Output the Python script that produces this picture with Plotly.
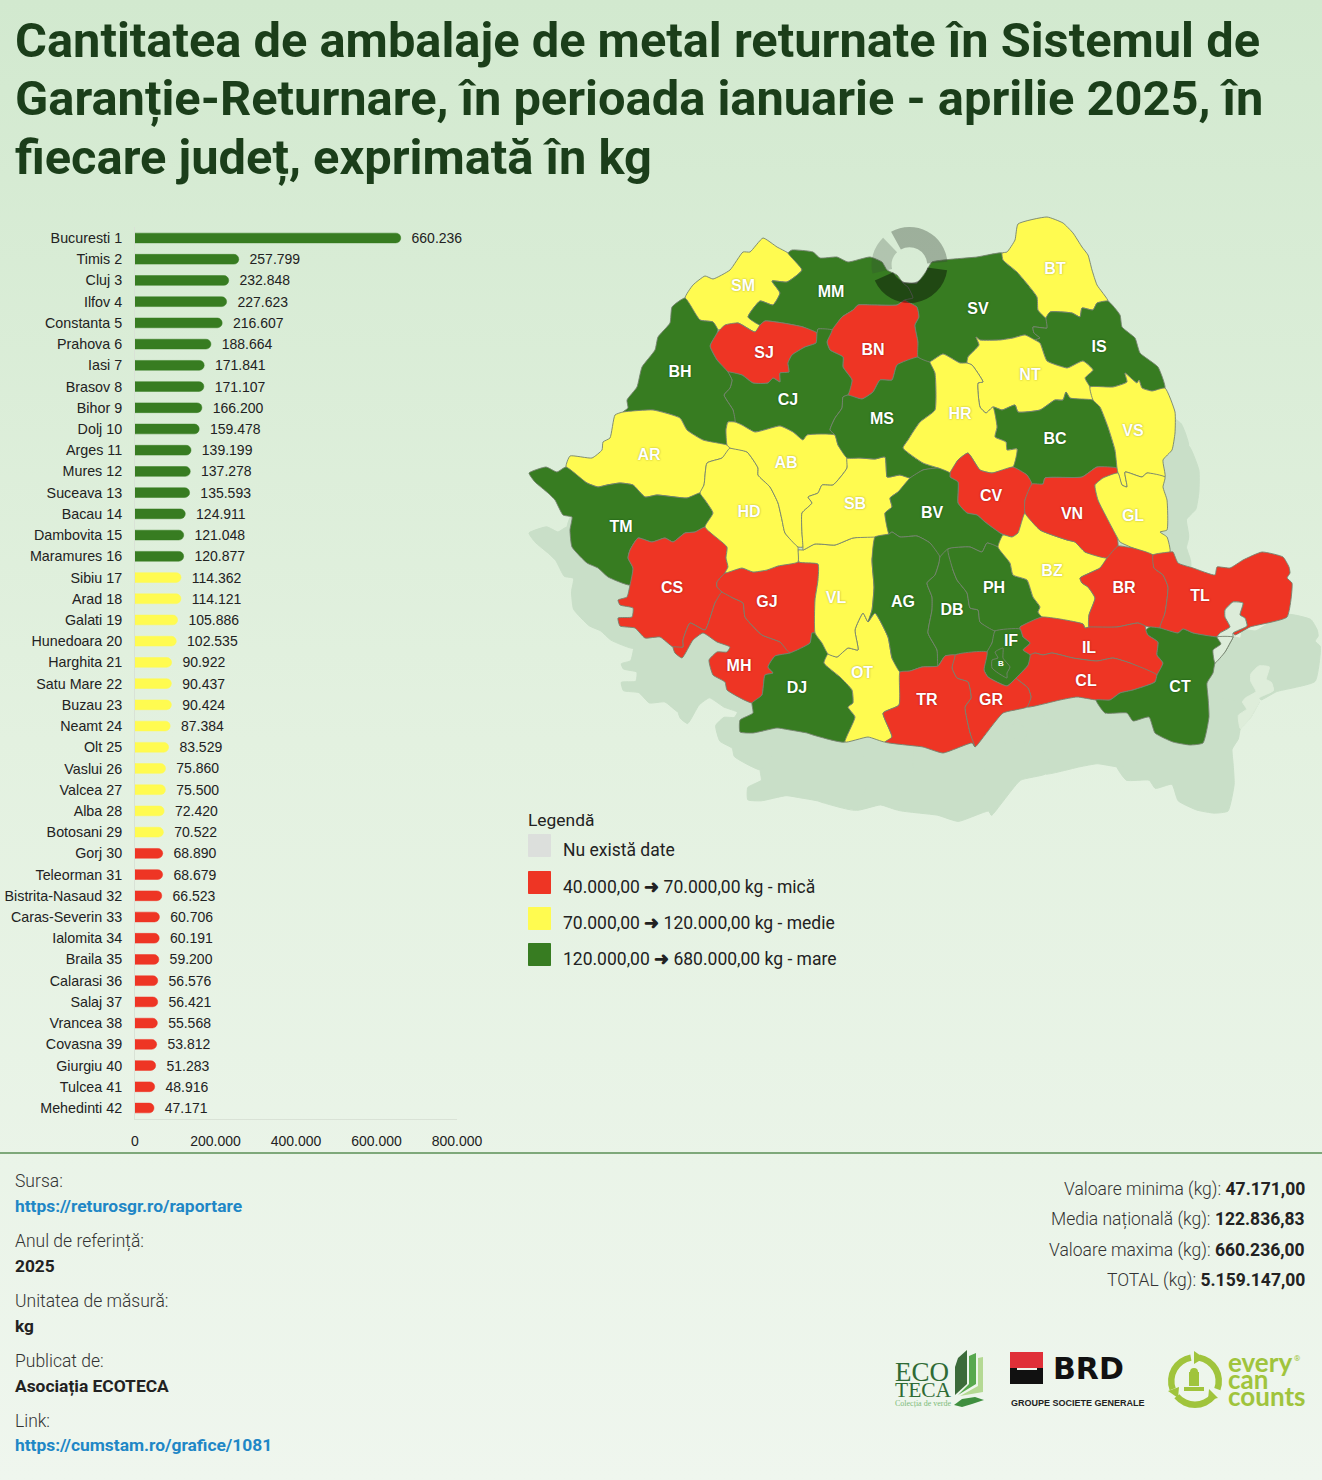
import numpy as np
import plotly.graph_objects as go

# bar chart data
county_names = ["Bucuresti", "Timis", "Cluj", "Ilfov", "Constanta", "Prahova", "Iasi", "Brasov", "Bihor", "Dolj",
                "Arges", "Mures", "Suceava", "Bacau", "Dambovita", "Maramures", "Sibiu", "Arad", "Galati", "Hunedoara",
                "Harghita", "Satu Mare", "Buzau", "Neamt", "Olt", "Vaslui", "Valcea", "Alba", "Botosani", "Gorj",
                "Teleorman", "Bistrita-Nasaud", "Caras-Severin", "Ialomita", "Braila", "Calarasi", "Salaj", "Vrancea",
                "Covasna", "Giurgiu", "Tulcea", "Mehedinti"]
county_codes = ["B", "TM", "CJ", "IF", "CT", "PH", "IS", "BV", "BH", "DJ", "AG", "MS", "SV", "BC", "DB", "MM", "SB",
                "AR", "GL", "HD", "HR", "SM", "BZ", "NT", "OT", "VS", "VL", "AB", "BT", "GJ", "TR", "BN", "CS", "IL",
                "BR", "CL", "SJ", "VN", "CV", "GR", "TL", "MH"]
county_values = [660236, 257799, 232848, 227623, 216607, 188664, 171841, 171107, 166200, 159478, 139199, 137278,
                 135593, 124911, 121048, 120877, 114362, 114121, 105886, 102535, 90922, 90437, 90424, 87384, 83529,
                 75860, 75500, 72420, 70522, 68890, 68679, 66523, 60706, 60191, 59200, 56576, 56421, 55568, 53812,
                 51283, 48916, 47171]

# county outlines
SM_XY = [(685,298),(693,285),(705,276),(713,279),(730,270),(743,252),(750,252),(763,238),(777,247),(788,253),(802,270),(787,282),(772,281),(780,293),(773,305),(760,301),(748,317),(760,325),(755,332),(738,323),(718,330),(713,322),(700,320)]
MM_XY = [(788,253),(792,250),(813,252),(820,258),(837,257),(848,262),(870,257),(882,262),(887,270),(897,275),(903,283),(908,287),(913,298),(905,300),(897,305),(873,305),(858,305),(853,310),(842,317),(832,330),(818,329),(817,333),(803,327),(783,323),(765,321),(760,325),(748,317),(760,301),(773,305),(780,293),(772,281),(787,282),(802,270)]
BN_XY = [(827,342),(832,330),(842,317),(853,310),(858,305),(873,305),(897,305),(905,300),(917,307),(919,317),(915,325),(918,342),(918,357),(897,365),(892,380),(880,380),(873,392),(862,399),(848,395),(852,380),(843,367),(843,357),(830,350)]
SJ_XY = [(710,346),(717,333),(725,325),(738,323),(755,332),(760,325),(765,321),(783,323),(803,327),(817,333),(816,343),(805,347),(792,355),(788,363),(789,372),(780,373),(780,382),(773,378),(768,383),(753,383),(742,375),(728,372),(717,360)]
CJ_XY = [(728,372),(742,375),(753,383),(768,383),(773,378),(780,382),(780,373),(789,372),(788,363),(792,355),(805,347),(816,343),(817,333),(818,329),(832,330),(827,342),(830,350),(843,357),(843,367),(852,380),(848,395),(843,397),(842,408),(835,418),(830,430),(835,435),(807,435),(803,440),(793,432),(780,426),(755,432),(742,425),(735,422),(733,410),(724,395),(730,388),(732,380)]
BH_XY = [(685,298),(672,307),(670,323),(658,337),(655,350),(642,367),(637,387),(627,400),(628,408),(623,412),(653,410),(680,418),(687,430),(703,440),(727,445),(726,430),(728,422),(735,422),(733,410),(724,395),(730,388),(732,380),(728,372),(717,360),(710,346),(717,333),(718,330),(713,322),(700,320)]
AR_XY = [(623,412),(615,415),(610,438),(603,442),(602,450),(592,458),(570,456),(566,467),(587,483),(598,487),(607,485),(620,483),(633,485),(645,497),(657,495),(687,498),(700,493),(704,485),(707,463),(722,458),(730,448),(727,445),(703,440),(687,430),(680,418),(653,410)]
TM_XY = [(529,473),(546,467),(557,472),(566,467),(587,483),(598,487),(607,485),(620,483),(633,485),(645,497),(657,495),(687,498),(700,493),(705,500),(713,513),(705,527),(695,532),(685,533),(673,542),(665,538),(652,542),(638,538),(630,550),(628,558),(633,568),(630,585),(608,577),(598,568),(587,563),(572,547),(570,530),(572,517),(563,515),(555,500),(548,493),(535,482)]
CS_XY = [(630,585),(627,597),(618,600),(620,605),(633,608),(632,617),(618,618),(620,626),(635,628),(645,638),(660,637),(673,647),(683,647),(683,640),(690,623),(705,630),(715,603),(722,592),(717,587),(717,582),(725,573),(728,567),(726,558),(727,547),(705,527),(695,532),(685,533),(673,542),(665,538),(652,542),(638,538),(630,550),(628,558),(633,568)]
MH_XY = [(722,592),(715,603),(705,630),(690,623),(683,640),(683,647),(673,647),(675,653),(682,658),(693,640),(703,633),(717,642),(730,647),(727,652),(717,652),(709,660),(713,675),(725,682),(727,690),(752,703),(762,695),(765,675),(773,673),(768,667),(775,656),(790,653),(780,642),(762,635),(745,617),(743,603),(733,598)]
GJ_XY = [(725,573),(742,568),(753,572),(767,570),(778,566),(798,562),(818,564),(818,580),(815,600),(815,633),(812,633),(810,643),(790,653),(780,642),(762,635),(745,617),(743,603),(733,598),(722,592),(717,587),(717,582)]
DJ_XY = [(790,653),(810,643),(812,633),(815,633),(822,643),(828,654),(824,663),(840,677),(852,690),(853,703),(848,707),(855,717),(845,742),(813,735),(807,733),(790,730),(777,728),(753,733),(740,732),(740,720),(753,713),(752,703),(762,695),(765,675),(773,673),(768,667),(775,656)]
OT_XY = [(828,654),(837,657),(848,648),(858,650),(855,630),(863,613),(868,622),(875,613),(888,637),(892,658),(900,672),(899,705),(883,713),(892,737),(885,742),(868,737),(845,742),(855,717),(848,707),(853,703),(852,690),(840,677),(824,663)]
VL_XY = [(798,550),(799,562),(818,564),(818,580),(815,600),(815,633),(822,643),(828,654),(837,657),(848,648),(858,650),(855,630),(863,613),(868,622),(872,610),(874,587),(872,560),(875,537),(853,538),(835,545),(815,544),(803,550)]
HD_XY = [(730,448),(722,458),(707,463),(704,485),(700,493),(705,500),(713,513),(705,527),(727,547),(726,558),(728,567),(725,573),(742,568),(753,572),(767,570),(778,566),(798,562),(798,550),(798,547),(785,533),(782,520),(778,503),(770,487),(758,475),(758,468),(747,452)]
AB_XY = [(727,445),(726,430),(728,422),(735,422),(742,425),(755,432),(780,426),(793,432),(803,440),(807,435),(835,435),(838,445),(847,458),(847,468),(833,485),(822,485),(818,493),(808,497),(812,503),(802,513),(802,533),(803,547),(798,547),(785,533),(782,520),(778,503),(770,487),(758,475),(758,468),(747,452),(730,448)]
SB_XY = [(847,458),(860,458),(875,459),(885,457),(887,477),(890,477),(900,475),(910,478),(898,492),(890,498),(892,507),(885,513),(889,534),(875,537),(853,538),(835,545),(815,544),(803,550),(803,547),(802,533),(802,513),(812,503),(808,497),(818,493),(822,485),(833,485),(847,468)]
MS_XY = [(848,395),(862,399),(873,392),(880,380),(892,380),(897,365),(918,357),(930,362),(935,373),(935,410),(920,422),(913,432),(908,440),(903,448),(923,463),(938,468),(923,470),(910,478),(900,475),(890,477),(887,477),(885,457),(875,459),(860,458),(847,458),(838,445),(835,435),(830,430),(835,418),(842,408),(843,397)]
SV_XY = [(903,283),(917,283),(927,270),(932,262),(977,257),(1002,253),(1003,260),(1017,272),(1037,297),(1038,310),(1046,318),(1047,328),(1033,327),(1034,333),(1040,338),(1035,340),(1025,335),(1013,338),(1000,340),(980,340),(976,337),(979,345),(968,357),(967,363),(960,363),(943,354),(933,360),(930,362),(918,357),(918,342),(915,325),(919,317),(917,307),(905,300),(913,298),(908,287)]
BT_XY = [(1002,253),(1007,252),(1015,240),(1018,224),(1047,217),(1063,223),(1073,233),(1082,247),(1088,255),(1092,270),(1097,285),(1108,301),(1097,303),(1093,310),(1082,308),(1080,317),(1072,313),(1050,312),(1046,318),(1038,310),(1037,297),(1017,272),(1003,260)]
IS_XY = [(1046,318),(1050,312),(1072,313),(1080,317),(1082,308),(1093,310),(1097,303),(1108,301),(1120,315),(1122,327),(1135,338),(1140,353),(1158,367),(1165,388),(1152,391),(1142,388),(1139,380),(1137,383),(1125,373),(1127,382),(1113,387),(1090,387),(1085,378),(1093,370),(1083,361),(1070,367),(1067,368),(1047,361),(1040,343),(1035,340),(1040,338),(1034,333),(1033,327),(1047,328)]
NT_XY = [(976,337),(980,340),(1000,340),(1013,338),(1025,335),(1035,340),(1040,343),(1047,361),(1067,368),(1070,367),(1083,361),(1093,370),(1085,378),(1090,387),(1093,400),(1070,398),(1066,392),(1063,400),(1055,400),(1040,410),(1018,412),(1015,405),(1002,410),(993,407),(986,413),(980,407),(978,383),(983,382),(972,365),(967,363),(968,357),(979,345)]
BC_XY = [(993,407),(1002,410),(1015,405),(1018,412),(1040,410),(1055,400),(1063,400),(1066,392),(1070,398),(1093,400),(1100,407),(1108,427),(1115,450),(1117,468),(1097,467),(1082,477),(1045,478),(1043,484),(1032,484),(1027,475),(1013,467),(1017,449),(1007,450),(1006,442),(995,437),(997,427)]
HR_XY = [(930,362),(933,360),(943,354),(960,363),(967,363),(972,365),(983,382),(978,383),(980,407),(986,413),(993,407),(997,427),(995,437),(1006,442),(1007,450),(1017,449),(1013,467),(992,473),(980,470),(968,453),(958,460),(950,473),(938,468),(923,463),(903,448),(908,440),(913,432),(920,422),(935,410),(935,373)]
CV_XY = [(950,473),(958,460),(968,453),(980,470),(992,473),(1013,467),(1027,475),(1032,484),(1025,500),(1025,513),(1018,533),(1012,537),(1000,533),(985,522),(977,515),(967,513),(958,503),(958,482),(950,477)]
BV_XY = [(910,478),(923,470),(938,468),(950,473),(950,477),(958,482),(958,503),(967,513),(977,515),(985,522),(1000,533),(1003,535),(998,547),(987,543),(982,552),(970,547),(948,549),(940,557),(930,543),(917,536),(900,537),(892,532),(889,534),(885,513),(892,507),(890,498),(898,492)]
AG_XY = [(875,537),(889,534),(892,532),(900,537),(917,536),(930,543),(940,557),(939,563),(935,575),(927,583),(932,597),(932,610),(928,633),(937,650),(938,666),(922,667),(910,671),(900,672),(892,658),(888,637),(875,613),(868,622),(872,610),(874,587),(872,560)]
DB_XY = [(940,557),(948,549),(953,570),(957,580),(967,593),(970,608),(978,610),(980,622),(995,631),(992,643),(987,652),(955,655),(945,656),(938,666),(937,650),(928,633),(932,610),(932,597),(927,583),(935,575),(939,563)]
PH_XY = [(948,549),(970,547),(982,552),(987,543),(998,547),(1010,563),(1013,575),(1027,580),(1033,597),(1040,607),(1038,612),(1042,617),(1020,627),(1020,629),(995,631),(980,622),(978,610),(970,608),(967,593),(957,580),(953,570)]
BZ_XY = [(998,547),(1003,535),(1012,537),(1018,533),(1025,513),(1040,530),(1067,540),(1075,542),(1085,552),(1107,558),(1100,568),(1080,578),(1082,583),(1088,587),(1095,598),(1089,615),(1089,627),(1085,628),(1083,624),(1042,617),(1038,612),(1040,607),(1033,597),(1027,580),(1013,575),(1010,563)]
VN_XY = [(1025,513),(1025,500),(1032,484),(1043,484),(1045,478),(1082,477),(1097,467),(1117,468),(1118,473),(1103,478),(1095,485),(1098,500),(1117,537),(1118,546),(1107,558),(1085,552),(1075,542),(1067,540),(1040,530)]
VS_XY = [(1090,387),(1113,387),(1127,382),(1125,373),(1137,383),(1139,380),(1142,388),(1152,391),(1165,388),(1175,412),(1175,433),(1172,450),(1163,460),(1165,477),(1147,473),(1142,477),(1125,472),(1127,487),(1122,485),(1118,473),(1117,468),(1115,450),(1108,427),(1100,407),(1093,400)]
GL_XY = [(1095,485),(1103,478),(1118,473),(1122,485),(1127,487),(1125,472),(1142,477),(1147,473),(1165,477),(1163,487),(1167,500),(1167,530),(1160,532),(1167,537),(1170,552),(1153,555),(1133,548),(1120,542),(1117,537),(1098,500)]
BR_XY = [(1107,558),(1118,546),(1127,547),(1133,548),(1153,555),(1154,568),(1163,575),(1168,587),(1165,613),(1160,628),(1145,626),(1138,623),(1117,627),(1089,627),(1089,615),(1095,598),(1088,587),(1082,583),(1080,578),(1100,568)]
TL_XY = [(1153,555),(1170,552),(1173,552),(1178,563),(1193,568),(1215,575),(1217,567),(1230,568),(1243,560),(1262,552),(1283,557),(1289,567),(1290,573),(1287,578),(1292,583),(1287,617),(1250,627),(1235,635),(1233,633),(1247,626),(1245,618),(1240,615),(1243,603),(1233,602),(1225,610),(1225,617),(1230,627),(1220,633),(1217,637),(1193,633),(1183,629),(1178,633),(1160,628),(1165,613),(1168,587),(1163,575),(1154,568)]
IL_XY = [(1020,627),(1042,617),(1083,624),(1085,628),(1089,627),(1117,627),(1138,623),(1145,626),(1146,630),(1148,635),(1158,642),(1157,655),(1163,663),(1157,675),(1130,663),(1113,658),(1097,661),(1073,658),(1052,653),(1043,655),(1035,653),(1030,655),(1023,650),(1030,643),(1023,637),(1020,629)]
CL_XY = [(1030,655),(1035,653),(1043,655),(1052,653),(1073,658),(1097,661),(1113,658),(1130,663),(1157,675),(1155,682),(1133,690),(1120,693),(1110,700),(1096,700),(1077,697),(1060,700),(1027,707),(1031,697),(1028,688),(1016,678),(1017,677),(1028,665)]
CT_XY = [(1146,630),(1150,627),(1160,628),(1178,633),(1183,629),(1193,633),(1217,637),(1233,637),(1230,643),(1225,652),(1215,663),(1213,673),(1207,683),(1208,697),(1209,717),(1203,743),(1190,745),(1173,742),(1155,733),(1149,717),(1133,721),(1127,713),(1105,713),(1096,700),(1110,700),(1120,693),(1133,690),(1155,682),(1157,675),(1163,663),(1157,655),(1158,642),(1148,635)]
IF_XY = [(995,631),(1020,629),(1023,637),(1030,643),(1023,650),(1030,655),(1028,665),(1017,677),(1007,686),(988,677),(984,670),(987,652),(992,643)]
B_XY = [(995,652),(1003,648),(1003,658),(1010,667),(1007,673),(1007,678),(998,673),(992,668),(992,660),(998,658)]
GR_XY = [(955,655),(987,652),(984,670),(988,677),(1007,686),(1017,677),(1016,678),(1028,688),(1031,697),(1027,707),(1003,713),(985,735),(975,747),(970,733),(965,707),(971,698),(968,682),(957,678),(952,668)]
TR_XY = [(900,672),(910,671),(922,667),(938,666),(945,656),(955,655),(952,668),(957,678),(968,682),(971,698),(965,707),(970,733),(975,747),(972,743),(943,753),(923,747),(885,742),(892,737),(883,713),(899,705)]
RAZIM_XY = [(1247,626),(1245,618),(1240,615),(1243,603),(1233,602),(1225,610),(1225,617),(1230,627),(1220,633),(1217,637),(1233,637),(1233,633)]
SINOE_XY = [(1217,637),(1233,637),(1230,643),(1225,652),(1215,663),(1213,650),(1221,644)]

county_outlines = {"SM": SM_XY, "MM": MM_XY, "BN": BN_XY, "SJ": SJ_XY, "CJ": CJ_XY, "BH": BH_XY, "AR": AR_XY,
                   "TM": TM_XY, "CS": CS_XY, "MH": MH_XY, "GJ": GJ_XY, "DJ": DJ_XY, "OT": OT_XY, "VL": VL_XY,
                   "HD": HD_XY, "AB": AB_XY, "SB": SB_XY, "MS": MS_XY, "SV": SV_XY, "BT": BT_XY, "IS": IS_XY,
                   "NT": NT_XY, "BC": BC_XY, "HR": HR_XY, "CV": CV_XY, "BV": BV_XY, "AG": AG_XY, "DB": DB_XY,
                   "PH": PH_XY, "BZ": BZ_XY, "VN": VN_XY, "VS": VS_XY, "GL": GL_XY, "BR": BR_XY, "TL": TL_XY,
                   "IL": IL_XY, "CL": CL_XY, "CT": CT_XY, "IF": IF_XY, "B": B_XY, "GR": GR_XY, "TR": TR_XY}

label_positions = {"SM": (743,285), "MM": (831,291), "SV": (978,308), "BT": (1055,268), "BH": (680,371), "SJ": (764,352),
                   "BN": (873,349), "CJ": (788,399), "MS": (882,418), "HR": (960,413), "NT": (1030,374), "IS": (1099,346),
                   "VS": (1133,430), "BC": (1055,438), "AR": (649,454), "AB": (786,462), "SB": (855,503), "HD": (749,511),
                   "BV": (932,512), "CV": (991,495), "VN": (1072,513), "GL": (1133,515), "TM": (621,526), "CS": (672,587),
                   "GJ": (767,601), "VL": (836,597), "AG": (903,601), "DB": (952,609), "PH": (994,587), "BZ": (1052,570),
                   "BR": (1124,587), "TL": (1200,595), "IF": (1011,640), "IL": (1089,647), "CL": (1086,680), "CT": (1180,686),
                   "MH": (739,665), "DJ": (797,687), "OT": (862,672), "TR": (927,699), "GR": (991,699)}

legend_labels = ["Nu există date", "40.000,00 <b>➜</b> 70.000,00 kg - mică", "70.000,00 <b>➜</b> 120.000,00 kg - medie",
                 "120.000,00 <b>➜</b> 680.000,00 kg - mare"]
summary_names = ["Valoare minima (kg):", "Media națională (kg):", "Valoare maxima (kg):", "TOTAL (kg):"]
summary_values = ["47.171,00", "122.836,83", "660.236,00", "5.159.147,00"]
title_lines = ["Cantitatea de ambalaje de metal returnate în Sistemul de",
               "Garanție-Returnare, în perioada ianuarie - aprilie 2025, în",
               "fiecare județ, exprimată în kg"]

GREEN = "#377c21"
RED = "#ee3524"
YELLOW = "#fffb50"
NODATA = "#dcdfdc"
BORDER = "#75826f"
WATER = "#dcecd9"
SHADOW = "#c9dfc8"
TITLE_COL = "#1b3e1a"
TEXT_COL = "#222222"
LINK_COL = "#1f87c6"
W, H = 1322, 1480


def class_color(v):
    if v < 70000:
        return RED
    if v < 120000:
        return YELLOW
    return GREEN


colors = [class_color(v) for v in county_values]
code_color = dict(zip(county_codes, colors))

fig = go.Figure()


def label(x, y, text, size=17, color=TEXT_COL, anchor="left", family="Roboto", weight=None):
    fig.add_annotation(x=x, y=y, xref="x", yref="y", text=text, showarrow=False, xanchor=anchor, yanchor="middle",
                       borderpad=0, font=dict(family=family, size=size, color=color, weight=weight))


def poly_path(pts):
    return "M" + " L".join(f"{x},{y}" for x, y in pts) + " Z"


def poly_shape(pts, color):
    fig.add_shape(type="path", path=poly_path(pts), xref="x", yref="y", fillcolor=color, line_width=0)


def shifted(pts):
    # where the map shadow falls for a given outline
    a = np.array(pts + pts[:1], dtype=float)
    return a[:, 0] + 0.037 * (a[:, 0] - 529), a[:, 1] + 60 + 0.03 * (a[:, 1] - 473)


def map_line(color, width=1):
    return dict(color=color, width=width, shape="spline", smoothing=0.45)


# page background, top to bottom
fig.add_trace(go.Scatter(x=[0, W, W, 0, 0], y=[0, 0, H, H, 0], mode="lines", fill="toself", line_width=0,
                         fillgradient=dict(type="vertical",
                                           colorscale=[[0, "#eff6ee"], [0.5, "#e3f1e0"], [1, "#d2e9cf"]]),
                         hoverinfo="skip", showlegend=False))

# map shadow: same outlines, pushed down and right
for code, pts in county_outlines.items():
    sx, sy = shifted(pts)
    fig.add_trace(go.Scatter(x=sx, y=sy, mode="lines", fill="toself", fillcolor=SHADOW, line=map_line(SHADOW),
                             hoverinfo="skip", showlegend=False))
for pts in [RAZIM_XY, SINOE_XY]:
    sx, sy = shifted(pts)
    fig.add_trace(go.Scatter(x=sx, y=sy, mode="lines", fill="toself", fillcolor="#deedda", line=map_line("#deedda"),
                             hoverinfo="skip", showlegend=False))

# counties
for code, pts in county_outlines.items():
    a = np.array(pts + pts[:1])
    fig.add_trace(go.Scatter(x=a[:, 0], y=a[:, 1], mode="lines", fill="toself", fillcolor=code_color[code], name=code,
                             line=map_line(BORDER, 0.9), hoverinfo="skip", showlegend=False))

for pts in [RAZIM_XY, SINOE_XY]:
    a = np.array(pts + pts[:1])
    fig.add_trace(go.Scatter(x=a[:, 0], y=a[:, 1], mode="lines", fill="toself", fillcolor=WATER,
                             line=map_line(BORDER, 0.9), hoverinfo="skip", showlegend=False))

# county codes, halo depends on the fill
halos = {GREEN: "0 0 2px #0c4a0c", RED: "0 0 2px #a01010", YELLOW: "0 0 2px #a8a435"}
for col, halo in halos.items():
    codes = [c for c in label_positions if code_color[c] == col]
    fig.add_trace(go.Scatter(x=[label_positions[c][0] for c in codes], y=[label_positions[c][1] + 2 for c in codes],
                             text=codes, mode="text", textposition="middle center", hoverinfo="skip", showlegend=False,
                             textfont=dict(family="Liberation Sans", size=16, color="#ffffff", weight="bold", shadow=halo)))
fig.add_trace(go.Scatter(x=[1001], y=[664], text=["B"], mode="text", hoverinfo="skip", showlegend=False,
                         textfont=dict(family="Liberation Sans", size=8, color="#ffffff", weight="bold")))

# bars
bar_labels = [f"{n} {i + 1}" for i, n in enumerate(county_names)]
fig.add_trace(go.Bar(x=county_values, y=bar_labels, orientation="h", xaxis="x2", yaxis="y2", width=0.46,
                     marker=dict(color=colors, cornerradius=5, line=dict(color=colors, width=0.5)),
                     texttemplate="\u00a0\u00a0%{x:,d}", textposition="outside", cliponaxis=False, textangle=0,
                     constraintext="none",
                     textfont=dict(family="Liberation Sans", size=14, color=TEXT_COL), hoverinfo="skip",
                     showlegend=False))

# legend
legend_colors = [NODATA, RED, YELLOW, GREEN]
legend_y = [845.5, 882.5, 918.5, 954.5]
fig.add_trace(go.Scatter(x=[539.5] * 4, y=legend_y, mode="markers", hoverinfo="skip", showlegend=False,
                         marker=dict(symbol="square", size=22, color=legend_colors, line=dict(color=legend_colors, width=1))))
label(527, 819.5, "Legendă", size=17.4)
for txt, yy in zip(legend_labels, [850, 887, 923, 959]):
    label(562, yy, txt, size=17.5)

# donut on top of the map
fig.add_trace(go.Pie(values=[114, 13, 148, 11, 59, 15], rotation=331, direction="clockwise", sort=False, hole=0.47,
                     textinfo="none", hoverinfo="skip", showlegend=False,
                     domain=dict(x=[871.5 / W, 947.5 / W], y=[1 - 303 / H, 1 - 227 / H]),
                     marker=dict(colors=["rgba(55,70,55,0.36)", "rgba(0,0,0,0)", "rgba(0,0,0,0.42)", "rgba(0,0,0,0)",
                                         "rgba(55,70,55,0.24)", "rgba(0,0,0,0)"], line=dict(width=0))))

# title
for line, yy in zip(title_lines, [40, 98, 157]):
    label(14, yy, f"<b>{line}</b>", size=48.8, color=TITLE_COL)

# footer
fig.add_shape(type="line", x0=0, x1=W, y0=1153, y1=1153, xref="x", yref="y", line=dict(color="#7ea87a", width=2))
label(14, 1181, "Sursa:", color="#333333", weight=300, size=17.5)
label(14, 1206, "<b>https://returosgr.ro/raportare</b>", color=LINK_COL, size=17.4)
label(14, 1241, "Anul de referință:", color="#333333", weight=300, size=17.5)
label(14, 1266, "<b>2025</b>", size=17.3)
label(14, 1301, "Unitatea de măsură:", color="#333333", weight=300, size=17.5)
label(14, 1326, "<b>kg</b>", size=17.3)
label(14, 1361, "Publicat de:", color="#333333", weight=300, size=17.5)
label(14, 1386, "<b>Asociația ECOTECA</b>", size=17.4)
label(14, 1421, "Link:", color="#333333", weight=300, size=17.5)
label(14, 1445, "<b>https://cumstam.ro/grafice/1081</b>", color=LINK_COL, size=17.4)
for name, val, yy in zip(summary_names, summary_values, [1189, 1219, 1250, 1280]):
    label(1306, yy, f"<span style='color:#333333;font-weight:300'>{name}</span> <b>{val}</b>", anchor="right", size=17.5)

# ecoteca logo
label(894, 1372, "ECO", size=27, color="#2f6b35", family="Liberation Serif")
label(894, 1390, "TECA", size=21.5, color="#2f6b35", family="Liberation Serif")
label(894, 1403, "Colecția de verde", size=8, color="#7dbb7a", family="Liberation Serif")
poly_shape([(955, 1367), (958, 1358), (967, 1350), (967, 1384), (955, 1395)], "#3c6b3a")
poly_shape([(969, 1356), (976, 1353), (976, 1384), (958, 1395), (969, 1384)], "#57a84e")
poly_shape([(978, 1358), (983, 1357), (983, 1392), (960, 1396), (978, 1386)], "#b4d993")
poly_shape([(954, 1405), (962, 1399), (975, 1397), (984, 1400), (972, 1404), (962, 1407)], "#3f8f3f")

# brd logo
poly_shape([(1010, 1352), (1043, 1352), (1043, 1368), (1010, 1368)], "#e03038")
poly_shape([(1010, 1370), (1043, 1370), (1043, 1384), (1010, 1384)], "#111111")
poly_shape([(1010, 1368), (1017, 1368), (1017, 1370), (1010, 1370)], "#111111")
poly_shape([(1037, 1368), (1043, 1368), (1043, 1370), (1037, 1370)], "#111111")
label(1052, 1368, "<b>BRD</b>", size=30, color="#111111", family="DejaVu Sans")
label(1010, 1403, "<b>GROUPE SOCIETE GENERALE</b>", size=9, color="#222222", family="Liberation Sans")

# every can counts logo
LOGO_GREEN = "#a0c43c"
fig.add_trace(go.Pie(values=[100, 20, 100, 20, 100, 20], rotation=10, direction="clockwise", sort=False, hole=0.76,
                     textinfo="none", hoverinfo="skip", showlegend=False,
                     domain=dict(x=[1168 / W, 1222 / W], y=[1 - 1408 / H, 1 - 1354 / H]),
                     marker=dict(colors=[LOGO_GREEN, "rgba(0,0,0,0)"] * 3, line=dict(width=0))))
poly_shape([(1194, 1351), (1204, 1358), (1194, 1364)], LOGO_GREEN)
poly_shape([(1208, 1400), (1218, 1398), (1209, 1389)], LOGO_GREEN)
poly_shape([(1168, 1391), (1179, 1387), (1178, 1398)], LOGO_GREEN)
fig.add_shape(type="rect", x0=1189, x1=1199, y0=1372, y1=1386, xref="x", yref="y", fillcolor=LOGO_GREEN, line_width=0)
fig.add_shape(type="circle", x0=1190, x1=1198, y0=1368, y1=1376, xref="x", yref="y", fillcolor=LOGO_GREEN, line_width=0)
fig.add_shape(type="rect", x0=1184, x1=1204, y0=1387, y1=1391, xref="x", yref="y", fillcolor=LOGO_GREEN, line_width=0)
label(1227, 1362, "<b>every</b>", size=26, color=LOGO_GREEN, family="Lato")
label(1227, 1379, "<b>can</b>", size=26, color=LOGO_GREEN, family="Lato")
label(1227, 1396, "<b>counts</b>", size=26, color=LOGO_GREEN, family="Lato")
label(1293, 1358, "®", size=8, color=LOGO_GREEN)

fig.update_layout(
    width=W, height=H, margin=dict(l=0, r=0, t=0, b=0), autosize=False,
    paper_bgcolor="#e3f1e0", plot_bgcolor="rgba(0,0,0,0)", separators=",.", showlegend=False,
    xaxis=dict(domain=[0, 1], range=[0, W], visible=False, fixedrange=True, automargin=False),
    yaxis=dict(domain=[0, 1], range=[H, 0], visible=False, fixedrange=True, automargin=False),
    xaxis2=dict(domain=[135 / W, 457 / W], range=[0, 800000], dtick=200000, anchor="y2", tickformat=",d", showgrid=False,
                showline=True, linecolor="#d9e2d6", linewidth=1, zeroline=False, ticks="", ticklabelstandoff=10,
                tickfont=dict(family="Liberation Sans", size=14, color=TEXT_COL), fixedrange=True, automargin=False),
    yaxis2=dict(domain=[1 - 1118.6 / H, 1 - 227.4 / H], range=[41.5, -0.5], type="category", categoryorder="array",
                categoryarray=bar_labels, anchor="x2", showgrid=False, showline=True, linecolor="#d9e2d6", linewidth=1,
                zeroline=False, ticks="", ticklabelstandoff=9, tickmode="linear", dtick=1,
                tickfont=dict(family="Liberation Sans", size=14.3, color=TEXT_COL), fixedrange=True, automargin=False),
)

fig.write_html("out.html", post_script="document.body.style.margin='0';", config={"displayModeBar": False})
